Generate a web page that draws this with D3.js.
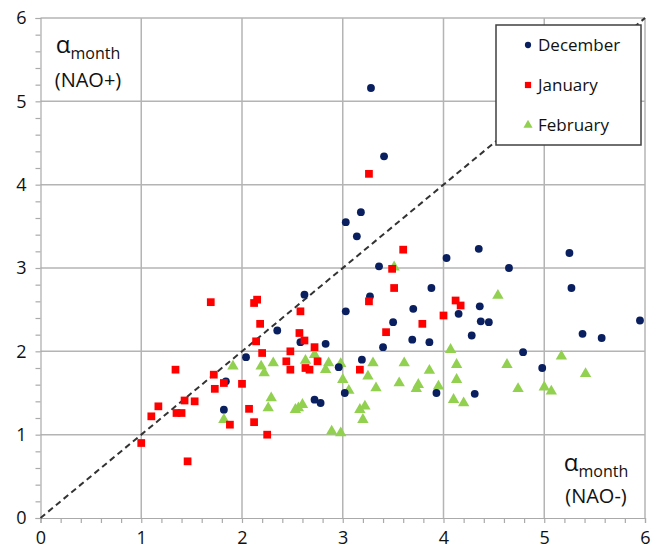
<!DOCTYPE html>
<meta charset="utf-8">
<style>
body { margin: 0; background: #fff; }
text { font-family: "Open Sans", sans-serif; fill: #111; }
.grid line { stroke: #b4b4b4; stroke-width: 1.5px; }
.axis path, .axis line { stroke: #aaa; stroke-width: 1.2px; }
.axis text { font-size: 18px; fill: #111; }
</style>
<svg></svg>
<script src="https://d3js.org/d3.v7.min.js"></script>
<script>

// values [x, y]
var december = [
  [3.28,5.16],[3.41,4.34],[3.18,3.67],[3.03,3.55],[3.14,3.38],[3.36,3.02],
  [2.62,2.68],[3.27,2.66],[3.88,2.76],[3.03,2.48],[3.70,2.51],[3.50,2.35],
  [3.69,2.14],[3.86,2.11],[3.40,2.05],[2.83,2.09],[2.58,2.11],[3.19,1.90],
  [2.96,1.81],[3.02,1.50],[2.72,1.42],[2.78,1.38],[3.93,1.50],[4.31,1.49],
  [2.35,2.25],[2.04,1.93],[1.84,1.64],[1.82,1.30],[4.35,3.23],[4.03,3.12],
  [4.65,3.00],[5.25,3.18],[5.27,2.76],[4.36,2.54],[4.15,2.45],[4.37,2.36],
  [4.45,2.35],[4.28,2.19],[5.38,2.21],[5.57,2.16],[5.95,2.37],[4.79,1.99],
  [4.98,1.80]
];
var january = [
  [3.26,4.13],[3.60,3.22],[3.49,2.99],[3.51,2.76],[3.26,2.60],[3.79,2.33],
  [3.43,2.23],[2.58,2.48],[2.57,2.22],[2.62,2.13],[2.72,2.05],[2.48,2.00],
  [2.44,1.88],[2.75,1.88],[2.48,1.78],[2.63,1.80],[2.67,1.78],[3.17,1.78],
  [4.12,2.61],[4.17,2.55],[4.00,2.43],[1.69,2.59],[2.15,2.62],[2.12,2.58],
  [2.18,2.33],[2.14,2.12],[2.20,1.98],[1.34,1.78],[1.72,1.72],[2.00,1.61],
  [1.82,1.62],[1.73,1.55],[1.43,1.41],[1.53,1.40],[1.17,1.34],[1.35,1.26],
  [1.40,1.26],[1.10,1.22],[2.07,1.31],[2.12,1.15],[1.88,1.12],[2.25,1.00],
  [1.00,0.90],[1.46,0.68]
];
var february = [
  [1.91,1.82],[2.19,1.82],[2.22,1.74],[2.31,1.86],[2.29,1.44],[2.26,1.32],
  [1.82,1.18],[2.63,1.89],[2.72,1.96],[2.86,1.86],[2.83,1.78],[2.98,1.85],
  [3.00,1.66],[3.06,1.53],[3.30,1.86],[3.25,1.70],[3.33,1.56],[3.61,1.86],
  [3.56,1.62],[3.75,1.60],[3.73,1.55],[3.86,1.77],[3.95,1.58],[2.53,1.30],
  [2.56,1.32],[2.60,1.36],[3.17,1.30],[3.22,1.34],[3.20,1.18],[2.89,1.04],
  [2.98,1.02],[3.51,3.01],[4.54,2.67],[4.07,2.02],[4.13,1.84],[4.13,1.66],
  [4.10,1.42],[4.20,1.38],[4.63,1.84],[4.74,1.55],[5.17,1.94],[5.41,1.73],
  [5.00,1.57],[5.07,1.52]
];
var seriesNames = ["December", "January", "February"];
var ticks = [0, 1, 2, 3, 4, 5, 6];

var width = 660, height = 549;
var margin = {top: 18, right: 15, bottom: 31, left: 40.5};

var svg = d3.select("svg").attr("width", width).attr("height", height);

var x = d3.scaleLinear().domain([0, 6]).range([margin.left, width - margin.right]);
var y = d3.scaleLinear().domain([0, 6]).range([height - margin.bottom, margin.top]);

var minor = d3.range(0, 6.001, 0.2);

// gridlines
var grid = svg.append("g").attr("class", "grid");
grid.selectAll(".v").data(ticks.slice(1)).enter().append("line")
  .attr("x1", d => x(d)).attr("x2", d => x(d))
  .attr("y1", y(0)).attr("y2", y(6));
grid.selectAll(".h").data(ticks.slice(1)).enter().append("line")
  .attr("x1", x(0)).attr("x2", x(6))
  .attr("y1", d => y(d)).attr("y2", d => y(d));

// axes with minor ticks
svg.append("g").attr("class", "axis")
  .attr("transform", "translate(0," + y(0) + ")")
  .call(d3.axisBottom(x).tickValues(minor).tickSize(5).tickFormat(""));
svg.append("g").attr("class", "axis")
  .attr("transform", "translate(" + x(0) + ",0)")
  .call(d3.axisLeft(y).tickValues(minor).tickSize(5).tickFormat(""));

svg.append("g").attr("class", "axis")
  .attr("transform", "translate(0," + y(0) + ")")
  .call(d3.axisBottom(x).tickValues(ticks).tickSize(0).tickPadding(13).tickFormat(d3.format("d")))
  .call(g => g.select(".domain").remove());
svg.append("g").attr("class", "axis")
  .attr("transform", "translate(" + x(0) + ",0)")
  .call(d3.axisLeft(y).tickValues(ticks).tickSize(0).tickPadding(14).tickFormat(d3.format("d")))
  .call(g => g.select(".domain").remove());

// 1:1 line
svg.append("line")
  .attr("x1", x(0)).attr("y1", y(0))
  .attr("x2", x(6)).attr("y2", y(6))
  .attr("stroke", "#333").attr("stroke-width", 2)
  .attr("stroke-dasharray", "6,4");

// points
var colors = {December: "#0a1f5f", January: "#ff0000", February: "#92d050"};
var sym = {
  December: d3.symbol().type(d3.symbolCircle).size(48),
  January: d3.symbol().type(d3.symbolSquare).size(60),
  February: d3.symbol().type(d3.symbolTriangle).size(56)
};
var data = {December: december, January: january, February: february};

["February", "December", "January"].forEach(function(name) {
  svg.append("g").selectAll("path")
    .data(data[name])
    .enter().append("path")
    .attr("d", sym[name])
    .attr("fill", colors[name])
    .attr("transform", d => "translate(" + x(d[0]) + "," + y(d[1]) + ")");
});

// legend
var lg = svg.append("g").attr("transform", "translate(496,25)");
lg.append("rect").attr("width", 145).attr("height", 120)
  .attr("fill", "#fff").attr("stroke", "#404040").attr("stroke-width", 1.5);
seriesNames.forEach(function(name, i) {
  var row = lg.append("g").attr("transform", "translate(0," + (20 + i * 40) + ")");
  row.append("path").attr("d", sym[name]).attr("fill", colors[name])
    .attr("transform", "translate(32,0) scale(0.8)");
  row.append("text").attr("x", 42).attr("dy", "0.35em")
    .style("font-size", "17px").text(name);
});

// annotations
function alphaLabel(cx, ay, by, tag) {
  var t = svg.append("text").attr("x", cx).attr("y", ay).attr("text-anchor", "middle")
    .style("font-size", "24px");
  t.append("tspan").text("\u03b1");
  t.append("tspan").attr("dy", 6).style("font-size", "16px").text("month");
  svg.append("text").attr("x", cx).attr("y", by).attr("text-anchor", "middle")
    .style("font-size", "20px").text(tag);
}
alphaLabel(88, 53, 87, "(NAO+)");
alphaLabel(596, 471, 503, "(NAO-)");

</script>
